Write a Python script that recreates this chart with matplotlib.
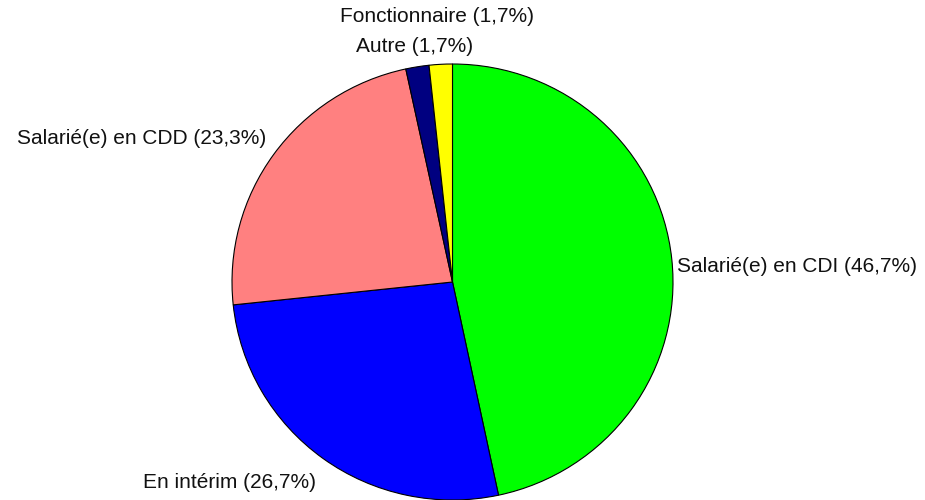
import matplotlib
matplotlib.use('Agg')
import numpy as np
import matplotlib.pyplot as plt

labels = ['Salarié(e) en CDI', 'En intérim', 'Salarié(e) en CDD', 'Autre', 'Fonctionnaire']
values = [46.7, 26.7, 23.3, 1.7, 1.7]
colors = ['#00FF00', '#0000FF', '#FF8080', '#000080', '#FFFF00']

# label anchor positions in figure pixels (x, y from top) and alignment
label_pos = [(677, 266, 'left'), (316, 483, 'right'), (266, 139, 'right'),
             (415, 47, 'center'), (437, 17, 'center')]

W, H = 925, 500
fig = plt.figure(figsize=(W / 100, H / 100), dpi=100)
plt.rcParams['font.family'] = ['Liberation Sans', 'DejaVu Sans']

# pie area in pixels: left 232, right 673, top 64, bottom 500
ax = fig.add_axes([232 / W, 1 - 500 / H, 441 / W, 436 / H])
ax.pie(values, colors=colors, startangle=90, counterclock=False,
       wedgeprops=dict(edgecolor='black', linewidth=0.8))
ax.set_aspect('auto')
ax.set_xlim(-1, 1)
ax.set_ylim(-1, 1)
ax.axis('off')

for lab, v, (x, y, ha) in zip(labels, values, label_pos):
    txt = f"{lab} ({v:.1f}%)".replace('.', ',')
    fig.text(x / W, 1 - y / H, txt, ha=ha, va='center', fontsize=15, color='#111111')

plt.savefig('out.png', dpi=100)
